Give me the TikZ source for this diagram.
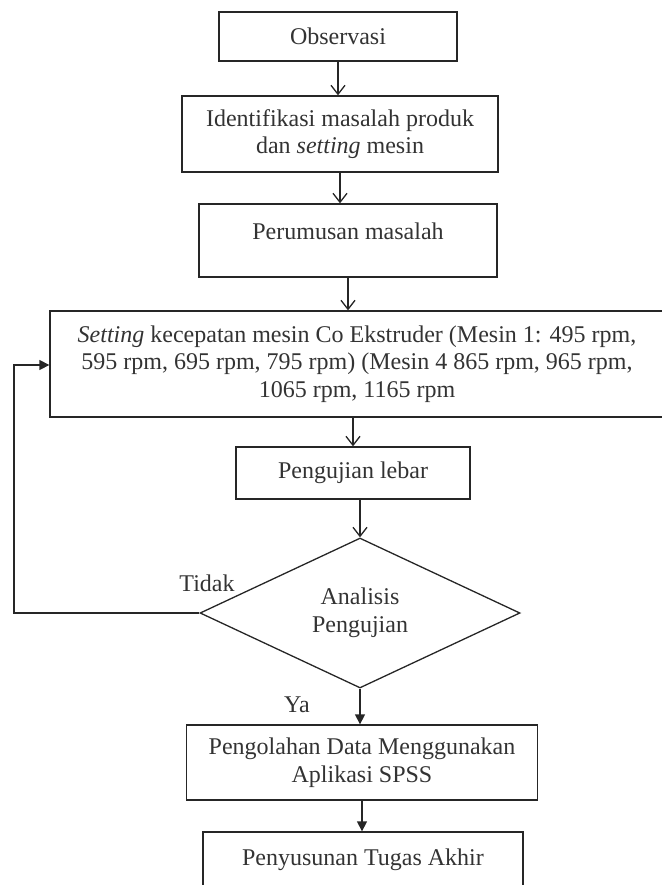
\documentclass[tikz,border=0pt]{standalone}
\usepackage{fontspec}
\setmainfont{Liberation Serif}
\usetikzlibrary{shapes.geometric,arrows.meta}

\begin{document}
\begin{tikzpicture}[x=1pt,y=-1pt,line width=1.3pt,font=\fontsize{24}{27.5}\selectfont]
 \tikzstyle{proses} = [draw=black!85,rectangle,inner sep=0,align=center,text=black!80]
 \tikzstyle{keputusan} = [draw=black!85,diamond,inner sep=0,align=center,text=black!80,minimum width=320,minimum height=150]
 \tikzstyle{panah} = [draw=black!85,-{Straight Barb[length=9pt,width=14pt]}]
 \tikzstyle{panahisi} = [draw=black!85,-{Triangle[length=10pt,width=10pt]}]
 \useasboundingbox (0,0) rectangle (661,885);

 \node[proses,minimum width=238,minimum height=49] (obs) at (338,36.5) {Observasi};
 \node[proses,minimum width=316,minimum height=76] (ident) at (340,134) {Identifikasi masalah produk\\dan \textit{setting} mesin};
 \node[proses,minimum width=298,minimum height=73,text depth=18pt] (rumus) at (348,240.5) {Perumusan masalah};
 \node[proses,minimum width=614,minimum height=106] (setting) at (357,364)
  {\textit{Setting} kecepatan mesin Co Ekstruder (Mesin 1: 495 rpm,\\595 rpm, 695 rpm, 795 rpm) (Mesin 4 865 rpm, 965 rpm,\\1065 rpm, 1165 rpm};
 \node[proses,minimum width=234,minimum height=52] (uji) at (353,473) {Pengujian lebar};
 \node[keputusan] (analisis) at (360,613) {Analisis\\Pengujian};
 \node[proses,minimum width=351,minimum height=75] (olah) at (362,762.5) {Pengolahan Data Menggunakan\\Aplikasi SPSS};
 \node[proses,minimum width=320,minimum height=56] (susun) at (363,860) {Penyusunan Tugas Akhir};

 % alur utama
 \draw[panah] (obs.south) -- (obs.south |- ident.north);
 \draw[panah] (ident.south) -- (ident.south |- rumus.north);
 \draw[panah] (rumus.south) -- (rumus.south |- setting.north);
 \draw[panah] (uji.north |- setting.south) -- (uji.north);
 \draw[panah] (analisis.north |- uji.south) -- (analisis.north);
 \draw[panahisi] (analisis.south) -- (analisis.south |- olah.north);
 \draw[panahisi] (olah.south) -- (olah.south |- susun.north);

 % kembali ke setting
 \coordinate (balik) at (14,365);
 \draw[panahisi] (analisis.west) -| (balik) -- (balik -| setting.west);
 \node[text=black!80] (tidak) at (207,583) {Tidak};
 \node[text=black!80] (ya) at (297,705) {Ya};
\end{tikzpicture}
\end{document}
